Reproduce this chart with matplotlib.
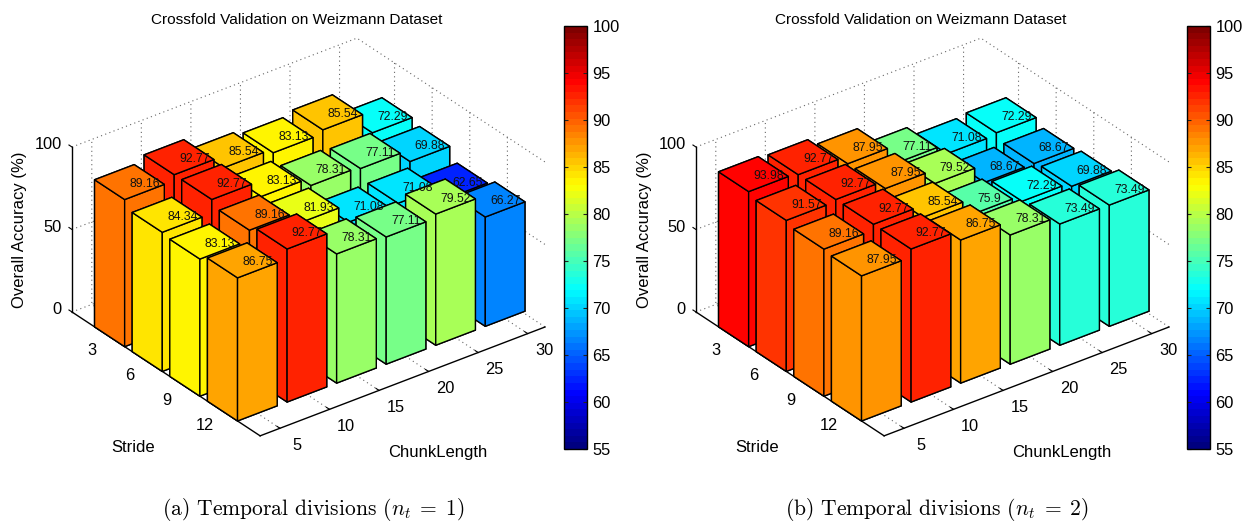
import matplotlib
matplotlib.use("Agg")
import matplotlib.pyplot as plt
from matplotlib.cm import ScalarMappable
from matplotlib.colors import LinearSegmentedColormap, Normalize
from mpl_toolkits.mplot3d import proj3d

plt.rcParams["font.family"] = ["Liberation Sans", "DejaVu Sans"]
plt.rcParams["mathtext.fontset"] = "cm"
plt.rcParams["grid.linestyle"] = (0, (1, 3))
plt.rcParams["grid.linewidth"] = 0.8
plt.rcParams["grid.color"] = "0.4"
plt.rcParams["axes.linewidth"] = 1.0

chunk_labels = ["5", "10", "15", "20", "25", "30"]
stride_labels = ["3", "6", "9", "12"]
z_ticks = [0, 50, 100]
cbar_ticks = [55, 60, 65, 70, 75, 80, 85, 90, 95, 100]

# rows are strides, columns are chunk lengths
acc_nt1 = [
    [89.16, 92.77, 85.54, 83.13, 85.54, 72.29],
    [84.34, 92.77, 83.13, 78.31, 77.11, 69.88],
    [83.13, 89.16, 81.93, 71.08, 71.08, 62.65],
    [86.75, 92.77, 78.31, 77.11, 79.52, 66.27],
]
acc_nt2 = [
    [93.98, 92.77, 87.95, 77.11, 71.08, 72.29],
    [91.57, 92.77, 87.95, 79.52, 68.67, 68.67],
    [89.16, 92.77, 85.54, 75.9, 72.29, 69.88],
    [87.95, 92.77, 86.75, 78.31, 73.49, 73.49],
]

W, H = 1245, 522
# matlab's jet, matplotlib's own one is a bit different
jet_anchors = [(0, (0, 0, 0.5)), (1 / 8, (0, 0, 1)), (3 / 8, (0, 1, 1)),
               (5 / 8, (1, 1, 0)), (7 / 8, (1, 0, 0)), (1, (0.5, 0, 0))]
cmap = LinearSegmentedColormap.from_list("matlab_jet", jet_anchors, N=64)
norm = Normalize(55, 100)

fig = plt.figure(figsize=(W / 100, H / 100), dpi=100)


def put_text(ax, x, y, z, s, **kw):
    # project by hand so the text is a plain 2D one
    px, py, _ = proj3d.proj_transform(x, y, z, ax.get_proj())
    ax.text2D(px, py, s, transform=ax.transData, ha=kw.pop("ha", "center"), va="center", **kw)


def draw_panel(acc, dx, cbar_dx, caption):
    size = 496
    left = 308.5 + dx - 0.5135 * size
    bottom = H - 237 - 0.5135 * size
    ax = fig.add_axes([left / W, bottom / H, size / W, size / H], projection="3d", proj_type="ortho")
    ax.patch.set_alpha(0)
    ax.computed_zorder = False

    # painter's order, back row first and far columns first
    for i in range(len(acc)):
        for j in range(len(acc[i]) - 1, -1, -1):
            v = acc[i][j]
            ax.bar3d(j + 1 - 0.4, i + 1 - 0.4, 0, 0.8, 0.8, v, color=cmap(norm(v)), shade=False,
                     edgecolor="black", linewidth=1.0, zorder=10 + i * 10 + (5 - j))

    ax.set_xlim(0.6, 6.35)
    ax.set_ylim(5, 0)
    ax.set_zlim(0, 100)
    ax.set_box_aspect((358.2, 310.5, 190.7))
    ax.view_init(elev=30.1, azim=-127.3)

    ax.set_xticks(range(1, 7))
    ax.set_xticklabels([])
    ax.set_yticks(range(1, 5))
    ax.set_yticklabels([])
    ax.set_zticks(z_ticks)
    ax.set_zticklabels([])
    for axis in (ax.xaxis, ax.yaxis, ax.zaxis):
        axis.set_pane_color((1, 1, 1, 0))
        axis.pane.set_edgecolor("none")
        axis.line.set_color("black")
        axis.line.set_linewidth(1.0)
        axis._axinfo["tick"].update(inward_factor=0, outward_factor=0.2)
    ax.zaxis.set_ticks_position("lower")

    # value labels go over everything
    for i in range(len(acc)):
        for j in range(len(acc[i])):
            v = acc[i][j]
            put_text(ax, j + 1, i + 1, v - 1.2, str(v), ha="left", fontsize=8.8, color="#111111", zorder=200)

    for j, lab in enumerate(chunk_labels):
        put_text(ax, j + 1 - 0.12, 5.6, 0, lab, fontsize=11.8)
    for i, lab in enumerate(stride_labels):
        put_text(ax, 0.10, i + 1 + 0.19, 0, lab, fontsize=11.8)
    for z in z_ticks:
        put_text(ax, 0.55, -0.2, z - 1.2, str(z), ha="right", fontsize=11.8)

    fig.text((296.5 + dx) / W, 1 - 20 / H, "Crossfold Validation on Weizmann Dataset", ha="center", va="center", fontsize=11.1)
    fig.text((20 + dx) / W, 1 - 230 / H, "Overall Accuracy (%)", rotation=90, ha="center", va="center", fontsize=12)
    fig.text((133 + dx) / W, 1 - 448 / H, "Stride", ha="center", va="center", fontsize=12)
    fig.text((438 + dx) / W, 1 - 452 / H, "ChunkLength", ha="center", va="center", fontsize=12)
    fig.text((313 + dx) / W, 1 - 509.5 / H, caption, ha="center", va="center", fontsize=15.5, family="cmr10")

    cax = fig.add_axes([(563.5 + cbar_dx) / W, 1 - 449 / H, 23.5 / W, 423 / H])
    cb = fig.colorbar(ScalarMappable(norm=norm, cmap=cmap), cax=cax, ticks=cbar_ticks)
    cb.ax.tick_params(direction="in", left=True, right=True, length=3, labelsize=11.8, pad=4, color="#222222")
    cb.outline.set_linewidth(1.0)


draw_panel(acc_nt1, 0, 0, r"(a) Temporal divisions $(n_t\;=\;1)$")
draw_panel(acc_nt2, 624, 623, r"(b) Temporal divisions $(n_t\;=\;2)$")

fig.savefig("out.png", dpi=100)
